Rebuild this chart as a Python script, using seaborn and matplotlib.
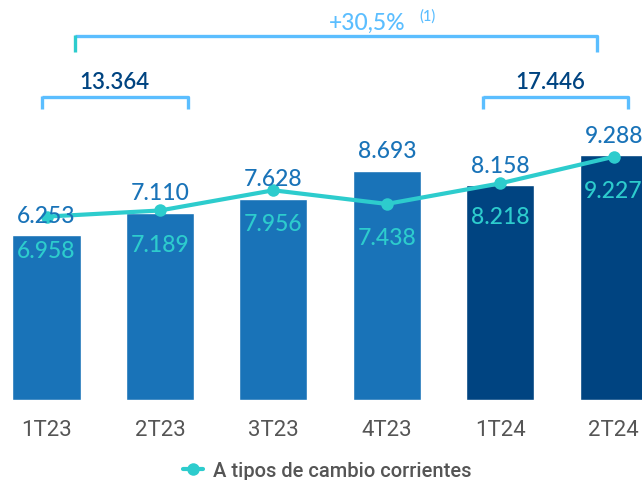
import numpy as np
import pandas as pd
import matplotlib
matplotlib.use("Agg")
import matplotlib.pyplot as plt
import seaborn as sns

quarters = ["1T23", "2T23", "3T23", "4T23", "1T24", "2T24"]
years = ["2023", "2023", "2023", "2023", "2024", "2024"]
bar_values = [6.253, 7.110, 7.628, 8.693, 8.158, 9.288]
line_values = [6.958, 7.189, 7.956, 7.438, 8.218, 9.227]
bar_labels = ["6.253", "7.110", "7.628", "8.693", "8.158", "9.288"]
line_labels = ["6.958", "7.189", "7.956", "7.438", "8.218", "9.227"]
legend_label = "A tipos de cambio corrientes"
total_growth = "+30,5%"
note_mark = "(1)"
half_2023 = "13.364"
half_2024 = "17.446"

sns.set_theme(style="white")
plt.rcParams["font.family"] = ["Lato", "DejaVu Sans"]

c23 = "#1973b8"
c24 = "#004481"
cline = "#2dcccd"
cbr = "#5bbeff"

fig = plt.figure(figsize=(6.42, 4.81), dpi=100)
ax = fig.add_axes([0, 80 / 481, 1, 401 / 481])

df = pd.DataFrame({"q": quarters, "v": bar_values, "y": years})
sns.barplot(data=df, x="q", y="v", hue="y", palette={"2023": c23, "2024": c24},
            dodge=False, width=0.6, ax=ax, legend=False, saturation=1)
sns.lineplot(x=np.arange(len(quarters)), y=line_values, color=cline, lw=3,
             marker="o", markersize=9, markeredgewidth=0, ax=ax,
             label=legend_label)

for i, (v, lab) in enumerate(zip(bar_values, bar_labels)):
    ax.text(i, v + 0.51, lab, ha="center", va="baseline", fontsize=16.5,
            color=c23, fontweight="medium")
for i, (v, lab) in enumerate(zip(line_values, line_labels)):
    ax.text(i, v - 1.52, lab, ha="center", va="baseline", fontsize=16.5,
            color=cline, fontweight="medium")

ax.set_xlim(-0.41, 5.25)
ax.set_ylim(0, 401 / 26.36)

def bracket(x0, x1, y, drop, left_color=cbr):
    ax.plot([x0, x1, x1], [y, y, y - drop], color=cbr, lw=2.4, clip_on=False,
            solid_capstyle="butt")
    ax.plot([x0, x0], [y - drop, y + 0.04], color=left_color, lw=2.4,
            clip_on=False, solid_capstyle="butt")

bracket(0.25, 4.85, 13.80, 0.60, left_color=cline)
ax.text(2.49, 14.07, total_growth, ha="left", va="baseline", fontsize=16.5,
        color=cbr, fontweight="medium")
ax.text(3.29, 14.44, note_mark, ha="left", va="baseline", fontsize=10.5,
        color=cbr, fontweight="medium")
bracket(-0.04, 1.25, 11.49, 0.46)
ax.text(0.595, 11.83, half_2023, ha="center", va="baseline", fontsize=16,
        color=c24, fontweight="semibold")
bracket(3.85, 5.13, 11.49, 0.46)
ax.text(4.44, 11.83, half_2024, ha="center", va="baseline", fontsize=16,
        color=c24, fontweight="semibold")

ax.set_xlabel("")
ax.set_ylabel("")
ax.set_yticks([])
ax.tick_params(axis="x", length=0, pad=14, labelsize=16, labelcolor="#555555")
for t in ax.get_xticklabels():
    t.set_fontfamily(["Roboto", "DejaVu Sans"])
for s in ax.spines.values():
    s.set_visible(False)

leg = ax.legend(loc="center", bbox_to_anchor=(0.51, -0.175), frameon=False,
                prop={"family": ["Roboto", "DejaVu Sans"], "size": 14.5, "weight": "medium"},
                handlelength=1.0, handletextpad=0.5)
for t in leg.get_texts():
    t.set_color("#555555")

fig.savefig("out.png", dpi=100)
